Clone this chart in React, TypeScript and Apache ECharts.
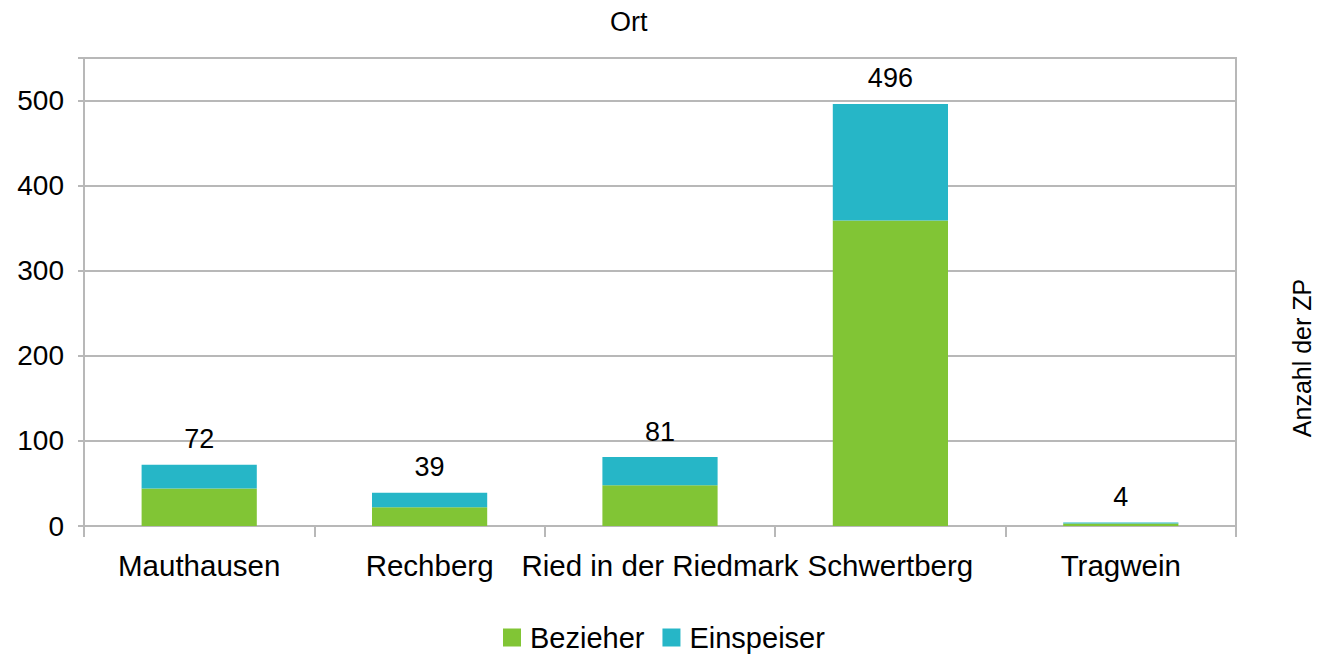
import React, { useEffect, useRef } from "react";
import * as echarts from "echarts";

const categories = ["Mauthausen", "Rechberg", "Ried in der Riedmark", "Schwertberg", "Tragwein"];
const bezieher = [44, 22, 48, 359, 3];
const einspeiser = [28, 17, 33, 137, 1];
const totals = bezieher.map((v, i) => v + einspeiser[i]);
const seriesNames = ["Bezieher", "Einspeiser"];
const yTicks = { min: 0, max: 550, interval: 100 };

const FONT = "Liberation Sans, Arial, sans-serif";
const GRID = "#b8b8b8";

export default function App() {
  const ref = useRef<HTMLDivElement>(null);
  useEffect(() => {
    if (!ref.current) return;
    const chart = echarts.init(ref.current, null, { renderer: "svg" });
    chart.setOption({
      animation: false,
      textStyle: { fontFamily: FONT },
      title: {
        text: "Ort",
        left: 605,
        top: 3,
        textStyle: { fontFamily: FONT, fontSize: 27, fontWeight: "normal", color: "#000" },
      },
      grid: {
        left: 84,
        right: 81,
        top: 58,
        bottom: 130,
        show: true,
        borderColor: GRID,
        borderWidth: 2,
        containLabel: false,
      },
      legend: {
        data: seriesNames,
        top: 623,
        left: 503,
        padding: 0,
        itemWidth: 18,
        itemHeight: 18,
        itemGap: 18,
        icon: "rect",
        textStyle: { fontFamily: FONT, fontSize: 29, color: "#000", padding: [0, 0, 0, 4] },
      },
      xAxis: {
        type: "category",
        data: categories,
        boundaryGap: true,
        axisLine: { lineStyle: { color: GRID, width: 2 } },
        axisTick: { show: true, length: 11, lineStyle: { color: GRID, width: 2 } },
        axisLabel: { interval: 0, margin: 24, fontSize: 29.5, color: "#000", fontFamily: FONT },
      },
      yAxis: {
        type: "value",
        min: yTicks.min,
        max: yTicks.max,
        interval: yTicks.interval,
        axisLine: { show: true, lineStyle: { color: GRID, width: 2 } },
        axisTick: { show: true, length: 6, lineStyle: { color: GRID, width: 2 } },
        axisLabel: {
          margin: 20,
          fontSize: 28,
          color: "#000",
          fontFamily: FONT,
          formatter: (v: number) => (v % 100 === 0 ? String(v) : ""),
        },
        splitLine: { lineStyle: { color: GRID, width: 2 } },
      },
      graphic: [
        {
          type: "text",
          x: 1302,
          y: 358,
          rotation: Math.PI / 2,
          style: {
            text: "Anzahl der ZP",
            fontFamily: FONT,
            fontSize: 25,
            fill: "#000",
            align: "center",
            verticalAlign: "middle",
          },
        },
      ],
      series: [
        {
          name: seriesNames[0],
          type: "bar",
          stack: "total",
          barCategoryGap: "50%",
          data: bezieher,
          itemStyle: { color: "#81c535" },
        },
        {
          name: seriesNames[1],
          type: "bar",
          stack: "total",
          barCategoryGap: "50%",
          data: einspeiser,
          itemStyle: { color: "#26b6c7" },
          label: {
            show: true,
            position: "top",
            distance: 12,
            fontSize: 27,
            color: "#000",
            fontFamily: FONT,
            formatter: (p: any) => String(totals[p.dataIndex]),
          },
        },
      ],
    });
    return () => chart.dispose();
  }, []);
  return (
    <div
      ref={ref}
      style={{ position: "fixed", left: 0, top: 0, width: 1317, height: 656, background: "#fff" }}
    />
  );
}
